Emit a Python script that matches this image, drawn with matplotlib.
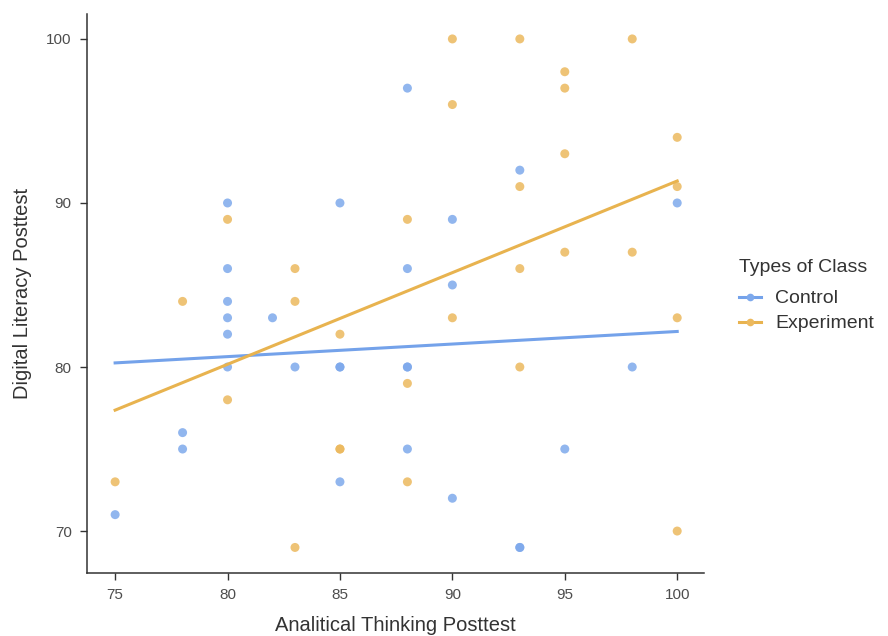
import numpy as np
import matplotlib
matplotlib.use("Agg")
import matplotlib.pyplot as plt
from matplotlib.lines import Line2D

plt.rcParams['font.family'] = ['Liberation Sans', 'DejaVu Sans']

# Control group
control_x = [75, 78, 78, 80, 80, 80, 80, 80, 80, 82, 83, 85, 85, 85, 85,
             88, 88, 88, 88, 88, 90, 90, 90, 93, 93, 93, 95, 98, 100]
control_y = [71, 76, 75, 90, 86, 84, 83, 82, 80, 83, 80, 90, 80, 80, 73,
             97, 86, 80, 80, 75, 89, 85, 72, 92, 69, 69, 75, 80, 90]

# Experiment group
exp_x = [75, 78, 80, 80, 83, 83, 83, 85, 85, 85, 88, 88, 88, 90, 90, 90,
         93, 93, 93, 93, 95, 95, 95, 95, 98, 98, 100, 100, 100, 100]
exp_y = [73, 84, 89, 78, 86, 84, 69, 82, 75, 75, 89, 79, 73, 100, 96, 83,
         100, 91, 86, 80, 98, 97, 93, 87, 100, 87, 94, 91, 83, 70]

groups = ["Control", "Experiment"]
x_ticks = [75, 80, 85, 90, 95, 100]
y_ticks = [70, 80, 90, 100]

pt_colors = {"Control": "#7ea9ec", "Experiment": "#ecb95e"}
ln_colors = {"Control": "#74a2ea", "Experiment": "#e8b34f"}

fig = plt.figure(figsize=(8.88, 6.36), dpi=100)
ax = fig.add_axes([0.098, 0.099, 0.695, 0.879])

data = {"Control": (control_x, control_y), "Experiment": (exp_x, exp_y)}
for g in groups:
    xs, ys = np.array(data[g][0], float), np.array(data[g][1], float)
    ax.scatter(xs, ys, s=42, color=pt_colors[g], alpha=0.85, edgecolors='none', zorder=2)
    b, a = np.polyfit(xs, ys, 1)
    xx = np.array([xs.min(), xs.max()])
    ax.plot(xx, a + b * xx, color=ln_colors[g], lw=2.2, zorder=3)

ax.set_xlim(73.75, 101.2)
ax.set_ylim(67.44, 101.52)
ax.set_xticks(x_ticks)
ax.set_yticks(y_ticks)
for s in ["top", "right"]:
    ax.spines[s].set_visible(False)
for s in ["left", "bottom"]:
    ax.spines[s].set_color("#333333")
    ax.spines[s].set_linewidth(1.1)
ax.tick_params(axis='both', direction='out', length=5, width=1.0, color="#333333",
               labelsize=11, labelcolor="#4d4d4d", pad=6)
ax.set_xlabel("Analitical Thinking Posttest", fontsize=14.5, color="#333333", labelpad=10)
ax.set_ylabel("Digital Literacy Posttest", fontsize=14.5, color="#333333", labelpad=10)

handles = [Line2D([0], [0], color=ln_colors[g], lw=2.2, marker='o', markersize=5.5,
                  markerfacecolor=pt_colors[g], markeredgecolor='none') for g in groups]
leg = fig.legend(handles, groups, title="Types of Class", loc='upper left',
                 bbox_to_anchor=(0.824, 0.605), frameon=False, fontsize=14,
                 title_fontsize=14, handlelength=1.1, handletextpad=0.75,
                 labelspacing=0.38, borderaxespad=0)
leg._legend_box.align = "left"
leg._legend_box.sep = 10
for t in leg.get_texts():
    t.set_color("#333333")
leg.get_title().set_color("#333333")

fig.savefig("out.png", dpi=100, facecolor="white")
